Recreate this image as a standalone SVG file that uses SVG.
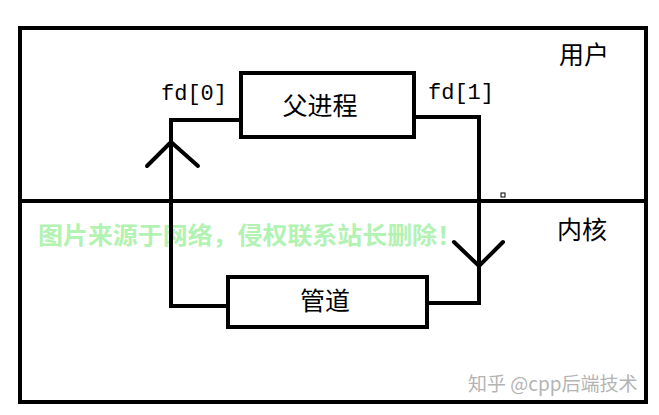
<svg xmlns="http://www.w3.org/2000/svg" width="659" height="415" viewBox="0 0 659 415">
  <style>
    .frame { fill: none; stroke: #000; stroke-width: 4; }
    .box { fill: #fff; stroke: #000; stroke-width: 4; }
    .line { fill: none; stroke: #000; stroke-width: 4; stroke-linejoin: miter; }
    .arrow { fill: none; stroke: #000; stroke-width: 4; stroke-linecap: round; }
    .cjk { font-family: "Noto Sans CJK SC", sans-serif; font-size: 25px; fill: #000; }
    .mono { font-family: "Liberation Mono", "DejaVu Sans Mono", monospace; font-size: 22px; fill: #000; }
    .wm { font-family: "Noto Sans CJK SC", sans-serif; font-size: 24px; font-weight: bold; fill: #b2f2b2; }
    .zh { font-family: "Noto Sans CJK SC", sans-serif; font-size: 19px; fill: #b4b4b4; }
  </style>
  <rect width="659" height="415" fill="#fff"/>
  <text class="wm" x="38" y="244" textLength="424" lengthAdjust="spacingAndGlyphs">图片来源于网络，侵权联系站长删除！</text>
  <g id="frame">
    <rect class="frame" x="20" y="28" width="626" height="374"/>
    <line class="frame" x1="20" y1="201" x2="646" y2="201"/>
    <rect x="501" y="193" width="4" height="4" fill="none" stroke="#000" stroke-width="1"/>
  </g>
  <g id="connectors">
    <polyline class="line" points="241,120 171,120 171,306 228,306"/>
    <polyline class="arrow" points="147,166 171,142 198,166"/>
    <polyline class="line" points="414,117 479,117 479,303 427,303"/>
    <polyline class="arrow" points="454,242 479,266 503,242"/>
  </g>
  <g id="parent">
    <rect class="box" x="241" y="73" width="173" height="64"/>
    <text class="cjk" x="320" y="115" text-anchor="middle">父进程</text>
  </g>
  <g id="pipe">
    <rect class="box" x="228" y="277" width="199" height="50"/>
    <text class="cjk" x="325" y="310" text-anchor="middle">管道</text>
  </g>
  <g id="labels">
    <text class="mono" x="161" y="100">fd[0]</text>
    <text class="mono" x="428" y="99">fd[1]</text>
    <text class="cjk" x="559" y="64">用户</text>
    <text class="cjk" x="557" y="239">内核</text>
  </g>
  <text class="zh" x="468" y="391">知乎 @cpp后端技术</text>
</svg>
